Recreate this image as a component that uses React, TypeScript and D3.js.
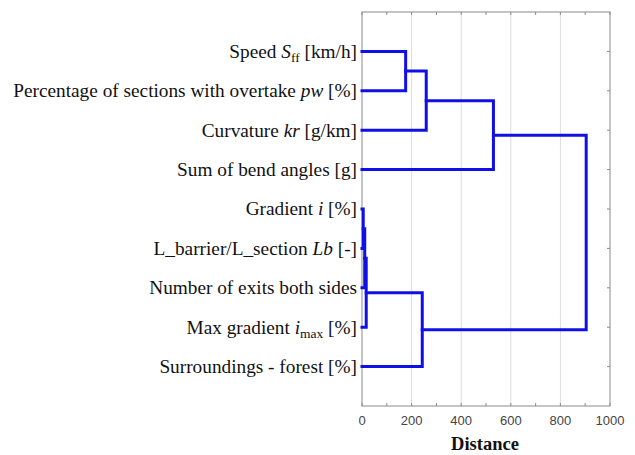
import React from "react";
import * as d3 from "d3";

// Leaf variables, top to bottom
const leafLabels = [
  "Speed",
  "Percentage",
  "Curvature",
  "Sum",
  "Gradient",
  "Lb",
  "Exits",
  "MaxGradient",
  "Forest",
];

// Linkage: [childA, childB, distance]; merge k creates node leafLabels.length + k
const merges: [number, number, number][] = [
  [0, 1, 176],
  [9, 2, 259],
  [10, 3, 530],
  [4, 5, 5],
  [12, 6, 11],
  [13, 7, 17],
  [14, 8, 243],
  [11, 15, 904],
];

const xTicks = [0, 200, 400, 600, 800, 1000];
const xMinorTicks = [0, 100, 200, 300, 400, 500, 600, 700, 800, 900, 1000];

const W = 635;
const H = 455;
const LEFT = 362;
const RIGHT = 610;
const TOP = 12;
const BOTTOM = 406;

const BLUE = "#1010e6";
const SERIF = "'Liberation Serif', 'Times New Roman', serif";
const SANS = "'Liberation Sans', Arial, sans-serif";

function LeafLabel({ i, y }: { i: number; y: number }) {
  const common = { x: LEFT - 5, y, textAnchor: "end" as const, dy: "0.33em" };
  const it = { fontStyle: "italic" as const };
  switch (i) {
    case 0:
      return (
        <text {...common}>
          Speed <tspan {...it}>S</tspan>
          <tspan fontSize="13.5" dy="4">ff</tspan>
          <tspan dy="-4"> [km/h]</tspan>
        </text>
      );
    case 1:
      return (
        <text {...common}>
          Percentage of sections with overtake <tspan {...it}>pw</tspan> [%]
        </text>
      );
    case 2:
      return (
        <text {...common}>
          Curvature <tspan {...it}>kr</tspan> [g/km]
        </text>
      );
    case 3:
      return <text {...common}>Sum of bend angles [g]</text>;
    case 4:
      return (
        <text {...common}>
          Gradient <tspan {...it}>i</tspan> [%]
        </text>
      );
    case 5:
      return (
        <text {...common}>
          L_barrier/L_section <tspan {...it}>Lb</tspan> [-]
        </text>
      );
    case 6:
      return <text {...common}>Number of exits both sides</text>;
    case 7:
      return (
        <text {...common}>
          Max gradient <tspan {...it}>i</tspan>
          <tspan fontSize="13.5" dy="4">max</tspan>
          <tspan dy="-4"> [%]</tspan>
        </text>
      );
    default:
      return <text {...common}>Surroundings - forest [%]</text>;
  }
}

export default function App() {
  const x = d3.scaleLinear().domain([0, 1000]).range([LEFT, RIGHT]);
  const y = d3.scaleLinear().domain([0, leafLabels.length + 1]).range([TOP, BOTTOM]);

  // Positions of every node (leaves then merges)
  const nodes: { h: number; pos: number }[] = leafLabels.map((_, i) => ({ h: 0, pos: i + 1 }));
  const links: string[] = [];
  merges.forEach(([a, b, d]) => {
    const na = nodes[a];
    const nb = nodes[b];
    const p = d3.path();
    p.moveTo(x(na.h), y(na.pos));
    p.lineTo(x(d), y(na.pos));
    p.lineTo(x(d), y(nb.pos));
    p.lineTo(x(nb.h), y(nb.pos));
    links.push(p.toString());
    nodes.push({ h: d, pos: (na.pos + nb.pos) / 2 });
  });

  return (
    <svg
      width={W}
      height={H}
      style={{ position: "absolute", left: 0, top: 0, background: "#fff" }}
    >
      {/* grid */}
      {xTicks.slice(1, -1).map((t) => (
        <line key={t} x1={x(t)} x2={x(t)} y1={TOP} y2={BOTTOM} stroke="#dcdcdc" strokeWidth={1} />
      ))}
      {/* frame */}
      <rect x={LEFT} y={TOP} width={RIGHT - LEFT} height={BOTTOM - TOP} fill="none" stroke="#8a8a8a" strokeWidth={1} />
      {/* minor ticks on top and bottom */}
      {xMinorTicks.map((t) => (
        <g key={t} stroke="#8a8a8a" strokeWidth={1}>
          <line x1={x(t)} x2={x(t)} y1={TOP} y2={TOP + 3} />
          <line x1={x(t)} x2={x(t)} y1={BOTTOM} y2={BOTTOM - 3} />
        </g>
      ))}
      {/* right ticks at leaves */}
      {leafLabels.map((_, i) => (
        <line key={i} x1={RIGHT} x2={RIGHT - 3} y1={y(i + 1)} y2={y(i + 1)} stroke="#8a8a8a" strokeWidth={1} />
      ))}
      {/* dendrogram links */}
      {links.map((dPath, i) => (
        <path key={i} d={dPath} fill="none" stroke={BLUE} strokeWidth={3} strokeLinejoin="miter" strokeLinecap="square" />
      ))}
      {/* x tick labels */}
      {xTicks.map((t) => (
        <text key={t} x={x(t)} y={BOTTOM + 19} textAnchor="middle" fontFamily={SANS} fontSize={13} fill="#444">
          {t}
        </text>
      ))}
      <text x={x(500) - 1} y={450} textAnchor="middle" fontFamily={SERIF} fontWeight="bold" fontSize={18.5} fill="#111">
        Distance
      </text>
      {/* leaf labels */}
      <g fontFamily={SERIF} fontSize={19.3} fill="#111">
        {leafLabels.map((_, i) => (
          <LeafLabel key={i} i={i} y={y(i + 1)} />
        ))}
      </g>
    </svg>
  );
}
